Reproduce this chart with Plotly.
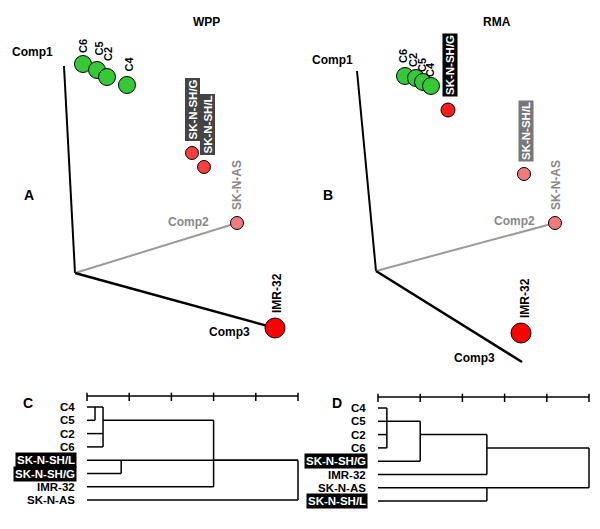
import plotly.graph_objects as go

W, H = 600, 529
FONT = "Liberation Sans, Arial, Helvetica, sans-serif"

# ---------------- data ----------------
samples = ["C6", "C5", "C2", "C4", "SK-N-SH/G", "SK-N-SH/L", "SK-N-AS", "IMR-32"]
# projected PCA scores (screen projection, relative to the axes origin)
wpp_x = [8, 22, 32, 52, 117, 129, 162, 200]
wpp_y = [209, 203, 196, 188, 120, 106, 50, -55]
rma_x = [29, 47, 40, 55, 72, 148, 179, 145]
rma_y = [195, 189, 193, 185, 161, 97, 48, -62]

components = ["Comp1", "Comp2", "Comp3"]
wpp_axis_x = [-11, 162, 200]
wpp_axis_y = [207, 50, -55]
rma_axis_x = [-19, 179, 146]
rma_axis_y = [200, 48, -91]

# hierarchical clustering (leaf order, merges: children, height, stem row)
wpp_leaves = ["C4", "C5", "C2", "C6", "SK-N-SH/L", "SK-N-SH/G", "IMR-32", "SK-N-AS"]
wpp_merges = [
    (["C4", "C5"], 0.19, 0),
    (["m0", "C2", "C6"], 0.38, 1),
    (["SK-N-SH/L", "SK-N-SH/G"], 0.81, 4),
    (["m1", "IMR-32"], 3.0, 4),
    (["m2", "m3", "SK-N-AS"], 5.0, None),
]
rma_leaves = ["C4", "C5", "C2", "C6", "SK-N-SH/G", "IMR-32", "SK-N-AS", "SK-N-SH/L"]
rma_merges = [
    (["C4", "C5", "C2", "C6"], 0.21, 1),
    (["m0", "SK-N-SH/G"], 1.0, 2),
    (["m1", "IMR-32"], 2.58, 3),
    (["SK-N-AS", "SK-N-SH/L"], 2.58, 6),
    (["m2", "m3"], 5.0, None),
]
ruler_ticks = [0, 1, 2, 3, 4, 5]

# ---------------- styles ----------------
GREEN = "#36c936"
style_wpp = {
    "C6": (GREEN, 17), "C5": (GREEN, 17), "C2": (GREEN, 17), "C4": (GREEN, 17),
    "SK-N-SH/G": ("#ff3d3d", 13), "SK-N-SH/L": ("#ff3d3d", 13),
    "SK-N-AS": ("#f27a7a", 13), "IMR-32": ("#ff0000", 20),
}
style_rma = {
    "C6": (GREEN, 17), "C5": (GREEN, 17), "C2": (GREEN, 17), "C4": (GREEN, 17),
    "SK-N-SH/G": ("#ff1a1a", 14), "SK-N-SH/L": ("#f27a7a", 13),
    "SK-N-AS": ("#f27a7a", 13), "IMR-32": ("#ff0000", 20),
}
# label text style: (font color, background, size)
lab_wpp = {
    "C6": ("black", None, 11), "C5": ("black", None, 11), "C2": ("black", None, 11), "C4": ("black", None, 11),
    "SK-N-SH/G": ("white", "#444444", 11.5), "SK-N-SH/L": ("white", "#444444", 11.5),
    "SK-N-AS": ("#888888", None, 12), "IMR-32": ("black", None, 12),
}
lab_rma = {
    "C6": ("black", None, 11), "C5": ("black", None, 11), "C2": ("black", None, 11), "C4": ("black", None, 11),
    "SK-N-SH/G": ("white", "black", 11.5), "SK-N-SH/L": ("white", "#777777", 11.5),
    "SK-N-AS": ("#888888", None, 12), "IMR-32": ("black", None, 12),
}
# label positions (text centres, axis units)
labpos_wpp = {
    "C6": (8, 227), "C5": (23, 224.5), "C2": (33, 219), "C4": (53, 208.5),
    "SK-N-SH/G": (117.5, 163), "SK-N-SH/L": (132.5, 148),
    "SK-N-AS": (162, 88), "IMR-32": (202, -20),
}
labpos_rma = {
    "C6": (27, 215), "C2": (37, 211), "C5": (46, 206), "C4": (54, 201),
    "SK-N-SH/G": (74, 206), "SK-N-SH/L": (150, 140),
    "SK-N-AS": (180, 86), "IMR-32": (149, -27),
}
comppos_wpp = [(-43, 221), (113, 51), (154, -59)]
comppos_rma = [(-44, 211), (138, 50), (98, -87)]
axis_style = [("black", 2), ("#9a9a9a", 2), ("black", 2.5)]
comp_color = ["black", "#888888", "black"]

fig = go.Figure()
annotations = []


def pca_panel(xs, ys, ax_x, ax_y, style, labst, labpos, comppos, xa, ya):
    for k, comp in enumerate(components):
        col, w = axis_style[k]
        fig.add_trace(go.Scatter(x=[0, ax_x[k]], y=[0, ax_y[k]], mode="lines",
                                 line=dict(color=col, width=w), xaxis=xa, yaxis=ya,
                                 hoverinfo="skip", showlegend=False))
        annotations.append(dict(x=comppos[k][0], y=comppos[k][1], xref=xa, yref=ya,
                                text="<b>%s</b>" % comp, showarrow=False,
                                xanchor="center", yanchor="middle",
                                font=dict(family=FONT, size=12, color=comp_color[k])))
    order = sorted(range(len(samples)), key=lambda i: xs[i])
    for i in order:
        s = samples[i]
        col, sz = style[s]
        fig.add_trace(go.Scatter(x=[xs[i]], y=[ys[i]], mode="markers",
                                 marker=dict(color=col, size=sz, line=dict(color="black", width=1)),
                                 xaxis=xa, yaxis=ya, name=s, showlegend=False))
        fc, bg, fs = labst[s]
        a = dict(x=labpos[s][0], y=labpos[s][1], xref=xa, yref=ya, text="<b>%s</b>" % s,
                 showarrow=False, textangle=-90, xanchor="center", yanchor="middle",
                 font=dict(family=FONT, size=fs, color=fc))
        if bg:
            a.update(bgcolor=bg, borderpad=1)
        annotations.append(a)


def dendro(leaves, merges, xa, ya, highlight):
    pos = {name: (0.0, i) for i, name in enumerate(leaves)}
    lx, ly = [], []
    for i, (children, h, stem) in enumerate(merges):
        rows = []
        for c in children:
            ch, cr = pos[c]
            lx += [ch, h, None]
            ly += [cr, cr, None]
            rows.append(cr)
        lx += [h, h, None]
        ly += [min(rows), max(rows), None]
        pos["m%d" % i] = (h, stem)
    fig.add_trace(go.Scatter(x=lx, y=ly, mode="lines", line=dict(color="black", width=1.5),
                             xaxis=xa, yaxis=ya, hoverinfo="skip", showlegend=False))
    # ruler
    rr, t0, t1 = -0.83, -1.08, -0.45
    rx = [ruler_ticks[0], ruler_ticks[-1], None]
    ry = [rr, rr, None]
    for t in ruler_ticks:
        rx += [t, t, None]
        ry += [t0, t1, None]
    fig.add_trace(go.Scatter(x=rx, y=ry, mode="lines", line=dict(color="black", width=1.5),
                             xaxis=xa, yaxis=ya, hoverinfo="skip", showlegend=False))
    for i, name in enumerate(leaves):
        a = dict(x=0, y=i, xref=xa, yref=ya, text="<b>%s</b>" % name, showarrow=False,
                 xanchor="right", yanchor="middle", xshift=-10,
                 font=dict(family=FONT, size=11.5, color="black"))
        if name in highlight:
            a.update(bgcolor="black", borderpad=1, font=dict(family=FONT, size=11.5, color="white"))
        annotations.append(a)


pca_panel(wpp_x, wpp_y, wpp_axis_x, wpp_axis_y, style_wpp, lab_wpp, labpos_wpp, comppos_wpp, "x", "y")
pca_panel(rma_x, rma_y, rma_axis_x, rma_axis_y, style_rma, lab_rma, labpos_rma, comppos_rma, "x2", "y2")
dendro(wpp_leaves, wpp_merges, "x3", "y3", ["SK-N-SH/L", "SK-N-SH/G"])
dendro(rma_leaves, rma_merges, "x4", "y4", ["SK-N-SH/G", "SK-N-SH/L"])


def paper_text(px, py, txt, size):
    annotations.append(dict(x=px / W, y=1 - py / H, xref="paper", yref="paper",
                            text="<b>%s</b>" % txt, showarrow=False,
                            xanchor="center", yanchor="middle",
                            font=dict(family=FONT, size=size, color="black")))


paper_text(206, 22, "WPP", 12)
paper_text(497, 22, "RMA", 12)
paper_text(29, 195, "A", 14)
paper_text(328, 195, "B", 14)
paper_text(28, 403, "C", 14)
paper_text(337, 403, "D", 14)

ax_off = dict(visible=False, showgrid=False, zeroline=False, fixedrange=True)
top_dom = [1 - 380 / H, 1]
bot_dom = [0, 1 - 380 / H]
UX = 42.2   # pixels per dendrogram height unit
UY = 13.3   # pixels per leaf row
fig.update_layout(
    width=W, height=H, margin=dict(l=0, r=0, t=0, b=0),
    paper_bgcolor="white", plot_bgcolor="white", showlegend=False,
    xaxis=dict(domain=[0, 0.5], range=[-75, 225], **ax_off),
    yaxis=dict(domain=top_dom, range=[-107, 273], **ax_off),
    xaxis2=dict(domain=[0.5, 1], range=[-76, 224], **ax_off),
    yaxis2=dict(domain=top_dom, range=[-109, 271], **ax_off),
    xaxis3=dict(domain=[0, 0.5], range=[-87 / UX, 213 / UX], **ax_off),
    yaxis3=dict(domain=bot_dom, range=[(529 - 407) / UY, (380 - 407) / UY], **ax_off),
    xaxis4=dict(domain=[0.5, 1], range=[-78 / UX, 222 / UX], **ax_off),
    yaxis4=dict(domain=bot_dom, range=[(529 - 408) / UY, (380 - 408) / UY], **ax_off),
    annotations=annotations,
)

fig.write_html("out.html", config={"displayModeBar": False},
               post_script="document.body.style.margin='0px';document.body.style.overflow='hidden';")
